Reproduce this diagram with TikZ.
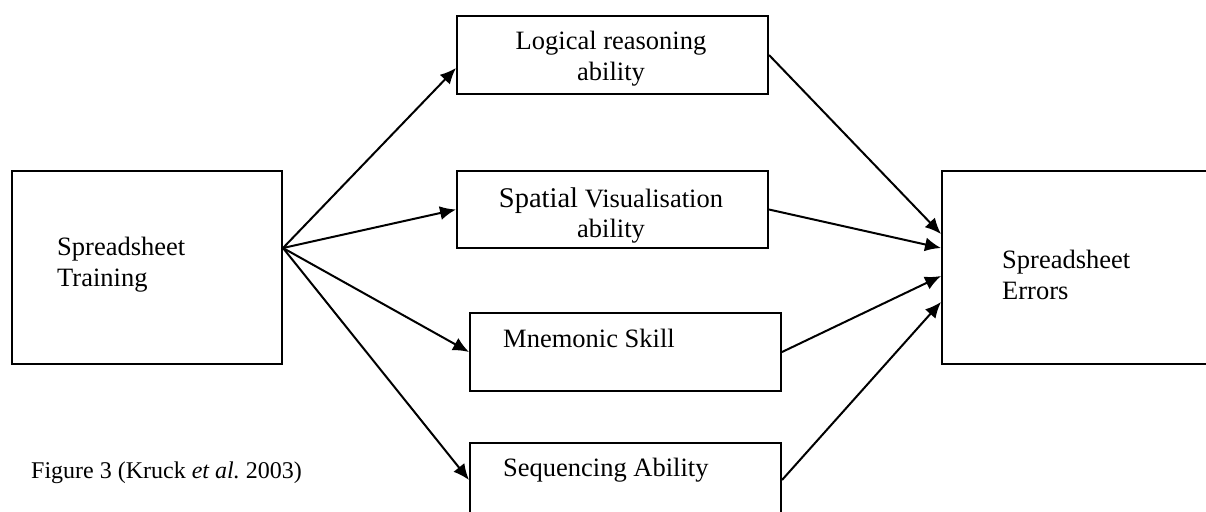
\documentclass[tikz,border=0pt]{standalone}
\usepackage{fontspec}
\setmainfont{Liberation Serif}
\usetikzlibrary{arrows.meta}
\begin{document}
\begin{tikzpicture}[x=1pt,y=-1pt,
  boxnode/.style={draw,line width=2pt,inner sep=0pt,anchor=north west},
  lbl/.style={inner sep=0pt,font=\fontsize{26.5}{31}\selectfont},
  arr/.style={line width=2pt,-{Latex[length=16pt,width=14pt]}}]
\useasboundingbox (0,0) rectangle (1206,511);
\clip (0,0) rectangle (1206,511);
% boxes
\node[boxnode,minimum width=270pt,minimum height=193pt] (train) at (11,170) {};
\node[boxnode,minimum width=311pt,minimum height=78pt] (logic) at (456,15) {};
\node[boxnode,minimum width=311pt,minimum height=77pt] (spatial) at (456,170) {};
\node[boxnode,minimum width=311pt,minimum height=78pt] (mnem) at (469,312) {};
\node[boxnode,minimum width=311pt,minimum height=78pt] (seq) at (469,442) {};
\node[boxnode,minimum width=280pt,minimum height=193pt] (err) at (941,170) {};
% labels
\node[lbl,anchor=base west] (t1) at (57,255) {Spreadsheet};
\node[lbl,anchor=base west] (t2) at (57,286) {Training};
\node[lbl,anchor=base] (l1) at (611,49) {Logical reasoning};
\node[lbl,anchor=base] (l2) at (611,80) {ability};
\node[lbl,anchor=base] (s1) at (611,207) {{\fontsize{28.5}{31}\selectfont Spatial} Visualisation};
\node[lbl,anchor=base] (s2) at (611,237) {ability};
\node[lbl,anchor=base west] (m1) at (503,347) {Mnemonic Skill};
\node[lbl,anchor=base west] (q1) at (503,476) {Sequencing Ability};
\node[lbl,anchor=base west] (e1) at (1002,268) {Spreadsheet};
\node[lbl,anchor=base west] (e2) at (1002,299) {Errors};
\node[inner sep=0pt,anchor=base west,font=\fontsize{24}{28}\selectfont] (cap) at (31,478) {Figure 3 (Kruck \textit{et al.}\ 2003)};
% connectors
\coordinate (src) at ([yshift=19.5pt]train.east);
\draw[arr] (src) -- ([yshift=-13pt]logic.west);
\draw[arr] (src) -- (spatial.west);
\draw[arr] (src) -- (mnem.west);
\draw[arr] (src) -- ([yshift=2pt]seq.west);
\draw[arr] (logic.east) -- ([yshift=33.5pt]err.west);
\draw[arr] (spatial.east) -- ([yshift=19.5pt]err.west);
\draw[arr] (mnem.east) -- ([yshift=-8.5pt]err.west);
\draw[arr] ([yshift=2pt]seq.east) -- ([yshift=-34.5pt]err.west);
\end{tikzpicture}
\end{document}
